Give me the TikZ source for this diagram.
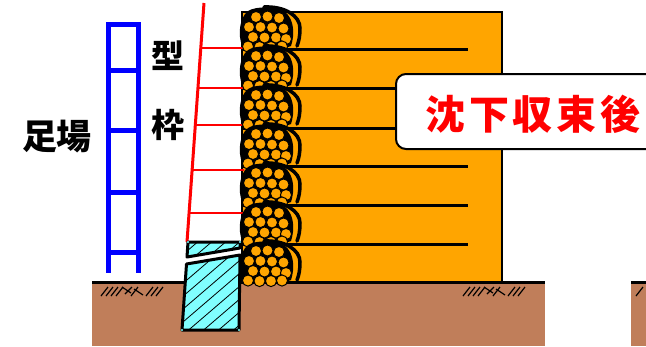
\documentclass[tikz,border=0pt]{standalone}
\usepackage{fontspec}
\newfontfamily\jp{Noto Sans CJK JP}
\usetikzlibrary{calc}
\definecolor{wallorange}{RGB}{255,165,0}
\definecolor{soil}{RGB}{192,126,90}
\definecolor{footcyan}{RGB}{128,255,255}
\tikzset{
  rail/.style={draw=blue, line width=5pt},
  tie/.style={draw=red, line width=1.8pt},
  gridline/.style={draw=black, line width=3pt},
  groundline/.style={draw=black, line width=3.5pt},
  hatchmark/.style={draw=black, line width=1.2pt},
  footblock/.style={fill=footcyan, draw=black, line width=3pt, line join=round},
  pebble/.style={fill=wallorange, draw=black, line width=1pt},
  label/.style={font=\jp\bfseries, inner sep=0pt},
}
% one gabion bag: dark body, packed stones, curled outer net
\newcommand\gabionbag[2]{%
  \begin{scope}[shift={(#1,#2)}]
    \fill[black] (0,37) .. controls (-4,28) and (-3,10) .. (6,3)
      .. controls (14,-2) and (34,-2) .. (43,4)
      .. controls (52,11) and (53,26) .. (49,38)
      .. controls (36,43) and (8,43) .. cycle;
    \foreach \cx/\cy in {14/9,25.5/8.5,37/10,
                         7/19,18.5/19,30/19.5,41.5/20.5,
                         11/29,22.5/29.5,34/29.5,44/31,
                         6/38.5,17.5/39,29/39,40/38.5}
      \filldraw[pebble] (\cx,\cy) circle[radius=5.6pt];
    \draw[line width=3.5pt, line cap=round] (22,-1) .. controls (43,-2) and (58,8) .. (58,20)
      .. controls (58,28) and (57,33) .. (55,38);
  \end{scope}}
% scribbled soil hatching under the ground line
\newcommand\soilhatch[1]{%
  \begin{scope}[shift={(#1,0)}]
    \foreach \hx in {0,5,10,15,30,45,50,55}
      \draw[hatchmark] (\hx,296) -- ++(7,-9);
    \draw[hatchmark] (21,287) -- ++(9,6);
    \draw[hatchmark] (24,294) -- ++(7,-7);
    \draw[hatchmark] (33,289) -- ++(9,6);
  \end{scope}}
\begin{document}
\begin{tikzpicture}[x=1pt,y=-1pt]
  \useasboundingbox (0,0) rectangle (646,346);
  \clip (0,0) rectangle (646,346);

  % ground
  \fill[soil] (92,283) rectangle (545,346);
  \fill[soil] (631,283) rectangle (646,346);
  \soilhatch{101}
  \soilhatch{463}
  \draw[hatchmark] (636,296) -- ++(7,-9);

  % reinforced earth wall body with grid layers
  \filldraw[fill=wallorange, draw=black, line width=2.5pt] (242,12) rectangle (502,282);
  \foreach \gy in {49,88,128,166,205,244}
    \draw[gridline] (242,\gy) -- (468,\gy);
  \draw[groundline] (92,282.5) -- (545,282.5);
  \draw[groundline] (631,282.5) -- (646,282.5);

  % formwork and its ties
  \coordinate (formtop) at (204,3);
  \coordinate (formbot) at (187,242);
  \foreach \ty in {48,88,125,170,213}
    \draw[tie] ($(formtop)!{(\ty-3)/239}!(formbot)$) -- (244,\ty);

  % gabion facing
  \foreach \k in {0,...,6} {\gabionbag{242}{8+\k*39}}

  \draw[red, line width=3pt] (formtop) -- (formbot);

  % footing block with its cap
  \draw[footblock] (188,242) -- (240,242) -- (240,248) -- (187,257) -- cycle;
  \begin{scope}
    \clip (188,242) -- (240,242) -- (240,248) -- (187,257) -- cycle;
    \foreach \k in {0,...,6}
      \draw[line width=0.8pt] (130+\k*14,300) -- ++(120,-103);
  \end{scope}
  \draw[footblock] (186.5,264) -- (240,255) -- (239,330) -- (182,330) -- cycle;
  \begin{scope}
    \clip (186.5,264) -- (240,255) -- (239,330) -- (182,330) -- cycle;
    \foreach \k in {0,...,9}
      \draw[line width=0.8pt] (110+\k*15,346) -- ++(120,-103);
  \end{scope}
  \foreach \p in {(188,242),(240,242),(239,330),(182,330)}
    \fill[footcyan] \p circle[radius=1.2pt];

  % scaffold ladder
  \draw[rail] (108.5,22) -- (108.5,273);
  \draw[rail] (138.5,22) -- (138.5,273);
  \foreach \ry in {24,70,130,192,252}
    \draw[rail] (106,\ry) -- (141,\ry);

  % labels
  \node[label, font=\jp\bfseries\fontsize{35}{35}\selectfont] (scaffold) at (57,137) {足場};
  \node[label, font=\jp\bfseries\fontsize{33}{33}\selectfont] (formA) at (168,56) {型};
  \node[label, font=\jp\bfseries\fontsize{33}{33}\selectfont] (formB) at (168,125) {枠};

  % stage callout
  \draw[fill=white, line width=2pt, rounded corners=10pt] (396,74) rectangle (690,149);
  \node[label, text=red, font=\jp\bfseries\fontsize{40}{40}\selectfont\addfontfeature{LetterSpace=9}] (stage) at (533,114) {沈下収束後};
\end{tikzpicture}
\end{document}
